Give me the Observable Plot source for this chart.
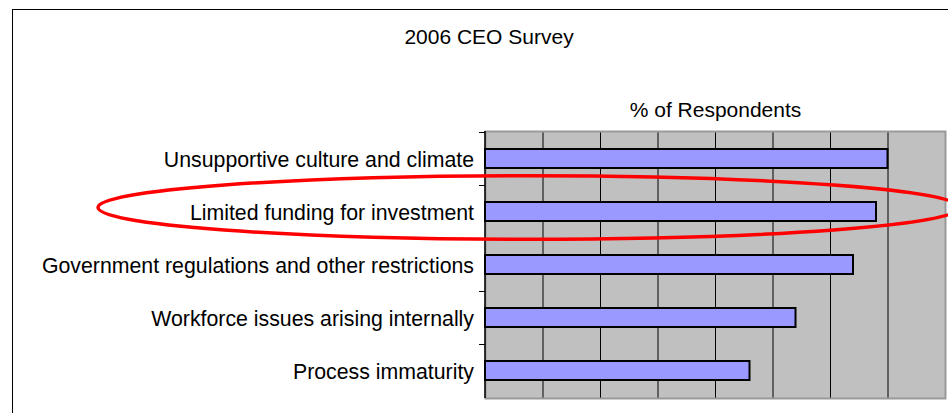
<!DOCTYPE html>
<html>
<head>
<meta charset="utf-8">
<script src="https://cdn.jsdelivr.net/npm/d3@7"></script>
<script src="https://cdn.jsdelivr.net/npm/@observablehq/plot@0.6"></script>
<style>
  body { margin: 0; background: #fff; overflow: hidden; }
  #wrap { position: relative; width: 948px; height: 413px; overflow: hidden; }
  #border { position: absolute; left: 12px; top: 9px; width: 1000px; height: 600px;
            border-left: 1.5px solid #000; border-top: 1.5px solid #000; pointer-events: none; }
</style>
</head>
<body>
<div id="wrap"></div>
<script>
const chartTitle = "2006 CEO Survey";
const axisTitle = "% of Respondents";
const categories = [
  "Unsupportive culture and climate",
  "Limited funding for investment",
  "Government regulations and other restrictions",
  "Workforce issues arising internally",
  "Process immaturity"
];
const values = [70, 68, 64, 54, 46];
const xDomain = [0, 80];
const gridTicks = [10, 20, 30, 40, 50, 60, 70];
const highlighted = "Limited funding for investment";
const highlightExtent = [-67.3, 82.6];

const data = categories.map((c, i) => ({category: c, value: values[i]}));

function leftAxis(index, scales, values, dims) {
  const x0 = dims.marginLeft;
  const top = dims.marginTop, bottom = dims.height - dims.marginBottom;
  const g = d3.create("svg:g");
  g.append("line").attr("x1", x0).attr("x2", x0).attr("y1", top).attr("y2", bottom)
    .attr("stroke", "#000").attr("stroke-width", 1.5);
  categories.forEach(c => {
    const yy = Math.round(scales.y(c)) + 0.5;
    g.append("line").attr("x1", x0 - 6).attr("x2", x0).attr("y1", yy).attr("y2", yy)
      .attr("stroke", "#000").attr("stroke-width", 1);
  });
  return g.node();
}

function highlightEllipse(index, scales, values, dims) {
  const step = scales.y(categories[1]) - scales.y(categories[0]);
  const xa = scales.x(highlightExtent[0]), xb = scales.x(highlightExtent[1]);
  const cy = scales.y(highlighted) + step / 2 - 4;
  return d3.create("svg:g").call(g => g.append("ellipse")
    .attr("cx", (xa + xb) / 2).attr("cy", cy)
    .attr("rx", (xb - xa) / 2).attr("ry", step * 0.6)
    .attr("fill", "none").attr("stroke", "#ff0000").attr("stroke-width", 3.5)).node();
}

const chart = Plot.plot({
  width: 948,
  height: 413,
  marginLeft: 485,
  marginRight: 3,
  marginTop: 131,
  marginBottom: 15,
  style: {fontFamily: "'Liberation Sans', Arial, sans-serif", background: "transparent", color: "#000"},
  x: {domain: xDomain, axis: null},
  y: {domain: categories, padding: 0, axis: null},
  marks: [
    Plot.frame({fill: "#c0c0c0"}),
    Plot.ruleX(gridTicks, {stroke: "#000", strokeWidth: 1}),
    Plot.frame({stroke: "#999999", strokeWidth: 2}),
    Plot.barX(data, {x: "value", y: "category", fill: "#9999ff", stroke: "#000", strokeWidth: 2, insetTop: 17, insetBottom: 17}),
    leftAxis,
    Plot.text(categories, {y: d => d, frameAnchor: "left", dx: -11.5, dy: 1, textAnchor: "end", lineAnchor: "middle", fontSize: 21.3, fill: "#000"}),
    Plot.text([chartTitle], {frameAnchor: "top", dx: -226.5, dy: -94, lineAnchor: "middle", fontSize: 21, fill: "#000"}),
    Plot.text([axisTitle], {frameAnchor: "top", dx: 0, dy: -21, lineAnchor: "middle", fontSize: 21, fill: "#000"}),
    highlightEllipse
  ]
});

const wrap = document.getElementById("wrap");
wrap.appendChild(chart);
const border = document.createElement("div");
border.id = "border";
wrap.appendChild(border);
</script>
</body>
</html>
